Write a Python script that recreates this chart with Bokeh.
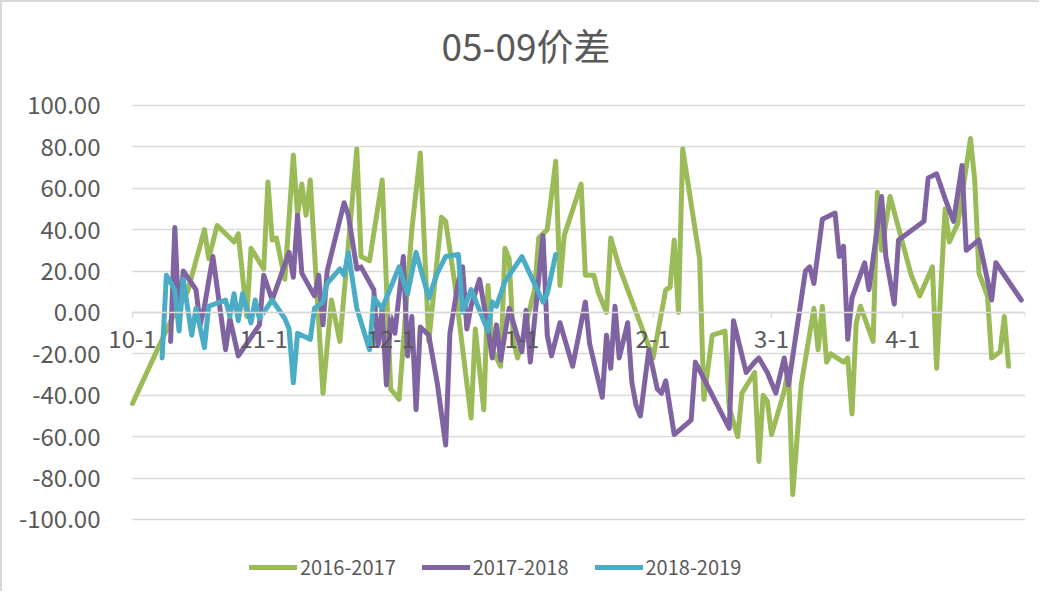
from bokeh.plotting import figure
from bokeh.models import Range1d, FixedTicker, Legend, LegendItem, NumeralTickFormatter, BoxAnnotation
from bokeh.embed import file_html
from bokeh.resources import INLINE

# ---- data (x = days since Oct 1 of each season) ----
month_ticks = [0, 31, 61, 92, 123, 151, 182, 211]
month_labels = ["10-1", "11-1", "12-1", "1-1", "2-1", "3-1", "4-1", ""]
y_ticks = [-100, -80, -60, -40, -20, 0, 20, 40, 60, 80, 100]

days_1617 = [0, 7, 10, 13, 17, 18, 20, 24, 25, 27, 28, 31, 32, 33, 34, 36, 38, 39, 40, 41,
             42, 45, 47, 49, 53, 54, 56, 59, 61, 63, 66, 68, 70, 73, 74, 76, 80, 81, 83, 84,
             85, 87, 88, 89, 90, 91, 95, 96, 98, 100, 101, 102, 106, 107, 109, 110, 112, 113, 115, 123,
             126, 127, 128, 129, 130, 134, 135, 137, 140, 141, 143, 144, 147, 148, 149, 150, 151, 154, 155, 156,
             158, 161, 162, 163, 164, 165, 168, 169, 170, 171, 172, 175, 176, 177, 179, 184, 186, 189, 190, 192,
             193, 195, 198, 199, 200, 202, 203, 205, 206, 207]
vals_1617 = [-44, -13, 0, 10, 40, 26, 42, 34, 38, -2, 31, 21, 63, 35, 36, 16, 76, 47, 62, 47,
             64, -39, 6, -14, 79, 27, 25, 64, -37, -42, 40, 77, -14, 46, 44, 16, -51, -8, -47, 13,
             -18, -26, 31, 26, -14, -22, 11, 36, 40, 73, 13, 37, 62, 18, 18, 10, 0, 36, 22, -22,
             11, 12, 35, 0, 79, 26, -42, -11, -9, -46, -60, -39, -29, -72, -40, -43, -59, -38, -27, -88,
             -35, 2, -18, 3, -24, -20, -24, -22, -49, -5, 3, -14, 58, 30, 56, 18, 8, 22, -27, 50,
             34, 43, 84, 64, 19, 8, -22, -19, -2, -26]

days_1718 = [9, 10, 11, 12, 15, 16, 17, 19, 22, 23, 25, 30, 31, 33, 37, 38, 39, 40, 43, 44,
             45, 46, 50, 51, 53, 54, 57, 58, 59, 60, 61, 62, 64, 65, 66, 67, 68, 70, 72, 74,
             75, 77, 78, 79, 80, 82, 84, 85, 86, 87, 89, 92, 93, 94, 97, 98, 99, 101, 104, 107,
             108, 111, 112, 113, 114, 115, 117, 118, 119, 120, 122, 124, 125, 126, 128, 132, 133, 141, 142, 145,
             147, 148, 150, 152, 154, 155, 159, 160, 161, 163, 166, 167, 168, 169, 170, 173, 174, 177, 178, 180,
             181, 187, 188, 190, 192, 194, 196, 197, 200, 203, 204, 210]
vals_1718 = [-14, 41, -5, 20, 11, -6, 3, 27, -18, -3, -21, -6, 18, 6, 29, 17, 47, 19, 8, 18,
             -6, 20, 53, 47, 21, 22, 11, -16, 2, -35, -2, -10, 27, -21, -2, -47, -7, -11, -34, -64,
             -10, 15, 22, -8, 3, 16, -8, -22, -6, -23, 2, -19, 1, -24, 37, -11, -21, -5, -26, 5,
             -15, -41, -11, -27, 3, -22, -5, -34, -45, -50, -18, -37, -39, -33, -59, -52, -24, -56, -4, -29,
             -24, -22, -29, -39, -22, -35, 20, 22, 14, 45, 48, 27, 32, -13, 7, 24, 11, 56, 27, 4,
             35, 44, 65, 67, 55, 44, 71, 30, 35, 6, 24, 6]

days_1819 = [7, 8, 10, 11, 12, 14, 15, 17, 18, 22, 23, 24, 25, 26, 28, 29, 30, 33, 36, 37,
             38, 39, 42, 43, 45, 46, 49, 50, 51, 53, 56, 57, 59, 63, 65, 67, 70, 72, 74, 77,
             78, 80, 84, 85, 86, 88, 92, 97, 98, 100]
vals_1819 = [-22, 18, 11, -9, 16, -11, 2, -17, 3, 6, -2, 9, -4, 9, -5, 6, -3, 6, -3, -8,
             -34, -10, -13, 2, 5, 14, 21, 18, 29, 2, -18, 7, 2, 22, 9, 29, 7, 19, 27, 28,
             0, 11, -9, 5, 3, 15, 27, 5, 9, 28]

series_names = ["2016-2017", "2017-2018", "2018-2019"]
series_colors = ["#9BBB59", "#8064A2", "#4BACC6"]

FONT = "Noto Sans CJK SC"
TXT = "#595959"
GRID = "#D9D9D9"

# frame spans the legend area and a small strip left of 10-1 (so that label is not clipped);
# gridlines/labels are limited to the data area
p = figure(frame_width=918, frame_height=519, output_backend="svg", toolbar_location=None,
           x_range=Range1d(-5.907, 211), y_range=Range1d(-134.8, 115.9),
           min_border_left=105, min_border_right=14, min_border_top=70, min_border_bottom=0,
           title="05-09价差")
p.styles = {"border-top": "2px solid #D9D9D9", "border-left": "2px solid #D9D9D9"}
p.outline_line_color = None
p.background_fill_color = "white"
p.border_fill_color = "white"

p.title.align = "left"
p.title.offset = 334
p.title.text_font = FONT
p.title.text_font_size = "37px"
p.title.text_font_style = "normal"
p.title.text_color = TXT
p.title.standoff = 2

# grid
p.xgrid.grid_line_color = None
p.ygrid.ticker = FixedTicker(ticks=y_ticks)
p.ygrid.grid_line_color = GRID
p.ygrid.grid_line_width = 1.5

# white strip hiding the gridlines left of the first date
p.add_layout(BoxAnnotation(right=0, fill_color="white", fill_alpha=1.0, line_color=None, level="underlay"))

# y axis
p.yaxis.ticker = FixedTicker(ticks=y_ticks)
p.yaxis.formatter = NumeralTickFormatter(format="0.00")
p.yaxis.axis_line_color = None
p.yaxis.major_tick_line_color = None
p.yaxis.minor_tick_line_color = None
p.yaxis.major_tick_out = 0
p.yaxis.major_label_standoff = 7
p.yaxis.major_label_text_font = FONT
p.yaxis.major_label_text_font_size = "24px"
p.yaxis.major_label_text_color = TXT

# x axis crossing at zero
p.xaxis.fixed_location = 0
p.xaxis.bounds = (0, 211)
p.xaxis.ticker = FixedTicker(ticks=month_ticks)
p.xaxis.major_label_overrides = {t: l for t, l in zip(month_ticks, month_labels)}
p.xaxis.axis_line_color = GRID
p.xaxis.axis_line_width = 1.5
p.xaxis.major_tick_line_color = GRID
p.xaxis.major_tick_line_width = 1.5
p.xaxis.major_tick_in = 0
p.xaxis.major_tick_out = 5
p.xaxis.minor_tick_line_color = None
p.xaxis.major_label_standoff = 13
p.xaxis.major_label_text_font = FONT
p.xaxis.major_label_text_font_size = "24px"
p.xaxis.major_label_text_color = TXT

renderers = []
for xs, ys, c in zip([days_1617, days_1718, days_1819],
                     [vals_1617, vals_1718, vals_1819], series_colors):
    r = p.line(xs, ys, line_color=c, line_width=5, line_join="round", line_cap="round")
    renderers.append(r)

legend = Legend(items=[LegendItem(label=n, renderers=[r]) for n, r in zip(series_names, renderers)],
                orientation="horizontal", location=(142, 10))
legend.glyph_width = 48
legend.glyph_height = 20
legend.label_standoff = 3
legend.spacing = 26
legend.padding = 0
legend.margin = 0
legend.border_line_color = None
legend.background_fill_alpha = 0
legend.label_text_font = FONT
legend.label_text_font_size = "20px"
legend.label_text_color = TXT
p.add_layout(legend, "center")

open("out.html", "w").write(file_html(p, INLINE))
